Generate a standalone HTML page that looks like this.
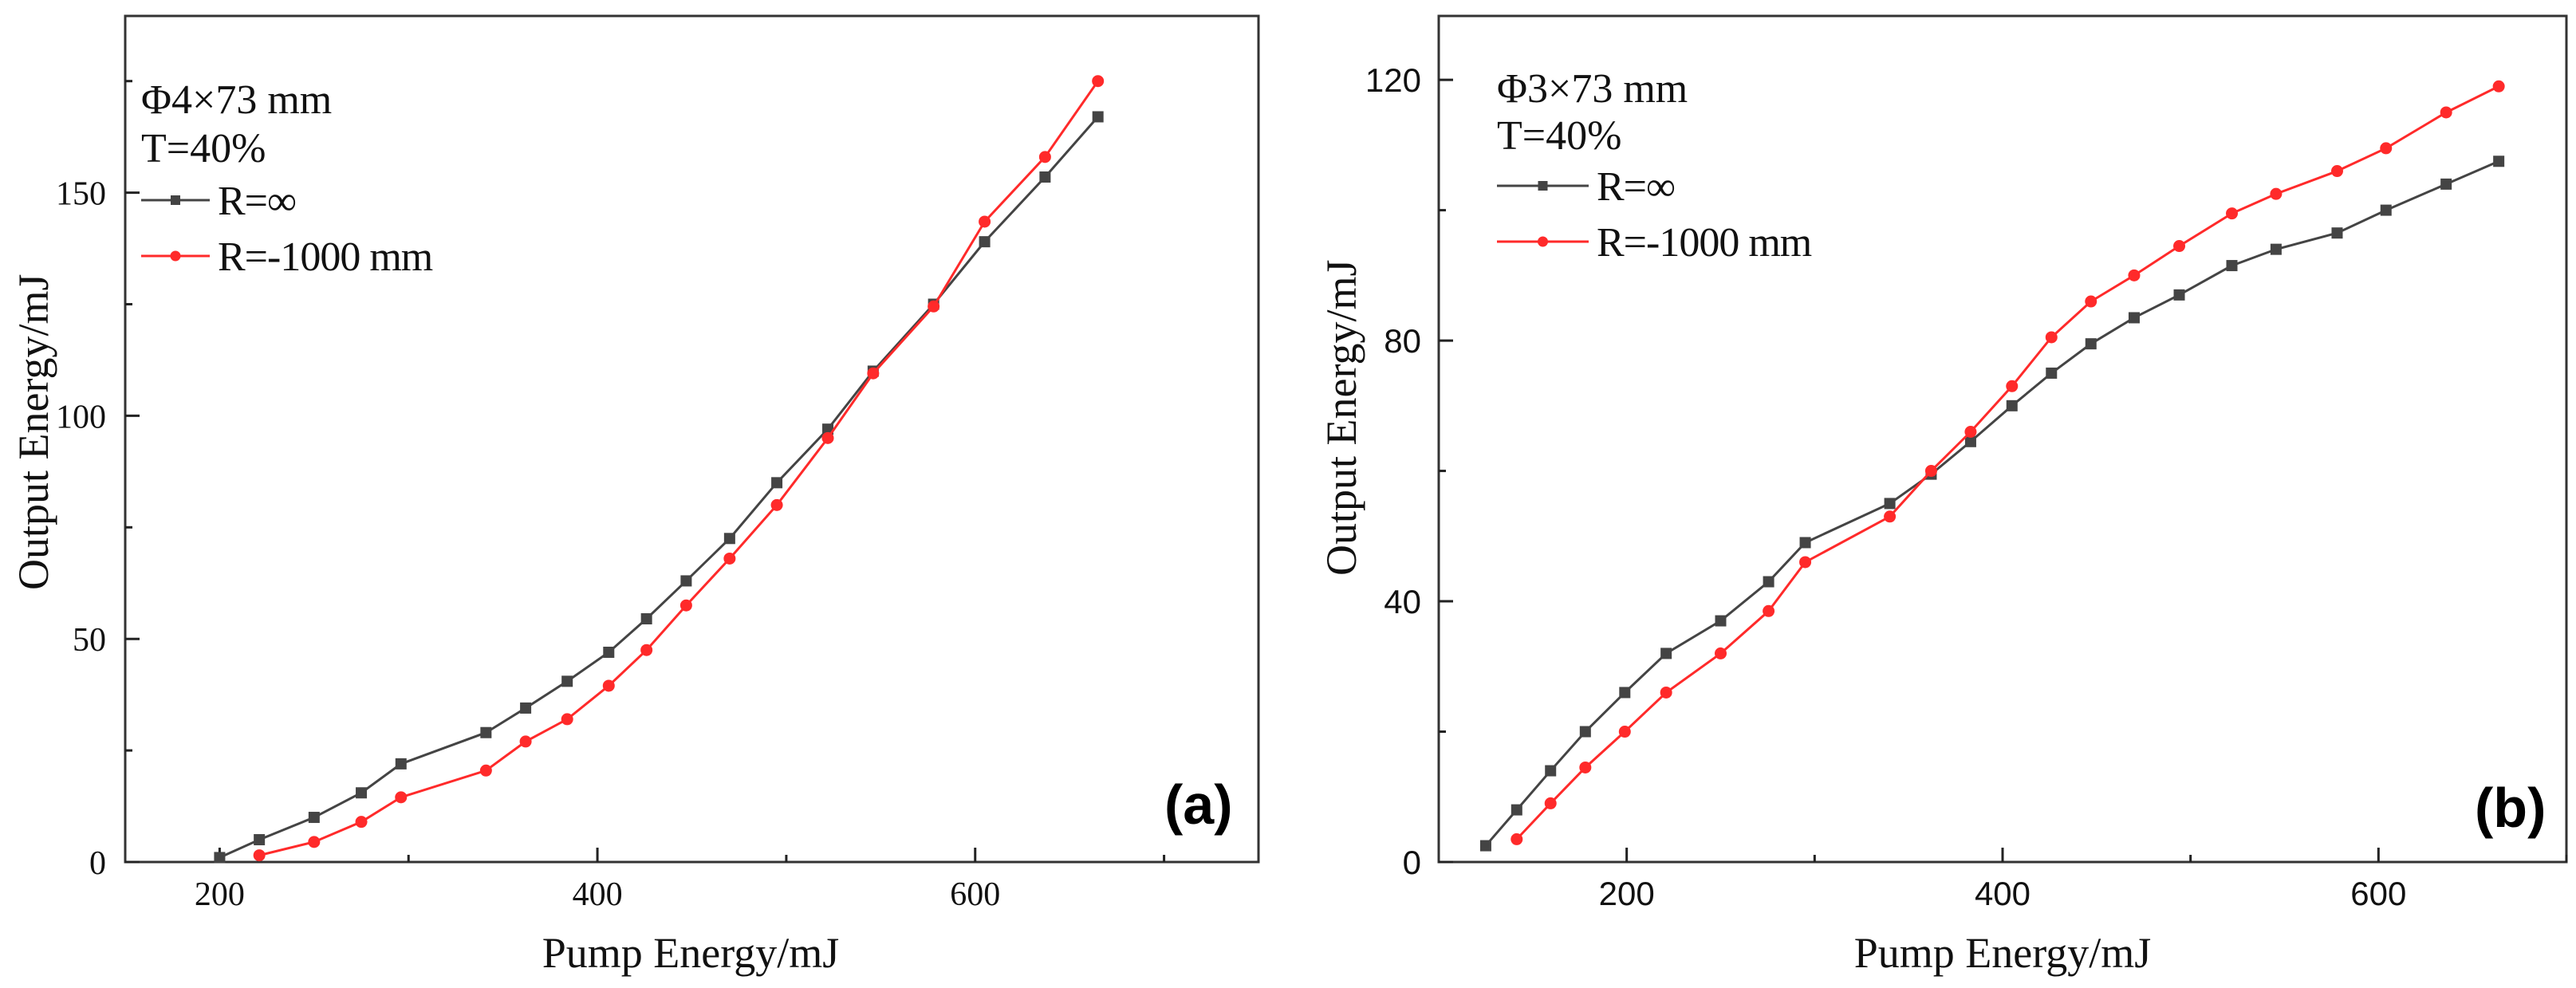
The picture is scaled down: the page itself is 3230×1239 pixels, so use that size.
<!DOCTYPE html>
<html><head><meta charset="utf-8"><style>
html,body{margin:0;padding:0;background:#fff;}
svg{display:block;}
</style></head>
<body>
<svg id="chart" width="3230" height="1239" viewBox="0 0 3230 1239" xmlns="http://www.w3.org/2000/svg"></svg>
<script>
// ---- Panel (a) data ----
const aBlackX = [200,221,250,275,296,341,362,384,406,426,447,470,495,522,546,578,605,637,665];
const aBlackY = [1,5,10,15.5,22,29,34.5,40.5,47,54.5,63,72.5,85,97,110,125,139,153.5,167];
const aRedX = [221,250,275,296,341,362,384,406,426,447,470,495,522,546,578,605,637,665];
const aRedY = [1.5,4.5,9,14.5,20.5,27,32,39.5,47.5,57.5,68,80,95,109.5,124.5,143.5,158,175];
const aXTicks = [200,400,600];
const aXMinor = [300,500,700];
const aYTicks = [0,50,100,150];
const aYMinor = [25,75,125,175];
// ---- Panel (b) data ----
const bBlackX = [125,141.5,159.5,178,199,221,250,275.5,295,340,362,383,405,426,447,470,494,522,545.5,578,604,636,664];
const bBlackY = [2.5,8,14,20,26,32,37,43,49,55,59.5,64.5,70,75,79.5,83.5,87,91.5,94,96.5,100,104,107.5];
const bRedX = [141.5,159.5,178,199,221,250,275.5,295,340,362,383,405,426,447,470,494,522,545.5,578,604,636,664];
const bRedY = [3.5,9,14.5,20,26,32,38.5,46,53,60,66,73,80.5,86,90,94.5,99.5,102.5,106,109.5,115,119];
const bXTicks = [200,400,600];
const bXMinor = [300,500,700];
const bYTicks = [0,40,80,120];
const bYMinor = [20,60,100];

const NS = "http://www.w3.org/2000/svg";
const svg = document.getElementById("chart");
function mk(tag, attrs, parent, text){
  const e = document.createElementNS(NS, tag);
  for (const k in attrs) e.setAttribute(k, attrs[k]);
  if (text !== undefined) e.textContent = text;
  (parent||svg).appendChild(e);
  return e;
}

function panel(cfg){
  const g = mk("g", {});
  
  
  const L=cfg.L,R=cfg.R,T=cfg.T,B=cfg.B;
  const sx = v => L + (v - cfg.xmin)/(cfg.xmax-cfg.xmin)*(R-L);
  const sy = v => B - (v - cfg.ymin)/(cfg.ymax-cfg.ymin)*(B-T);
  const tickFont = cfg.tickFont;
  const fr = mk("rect",{x:L,y:T,width:R-L,height:B-T,fill:"none",stroke:"#333",'stroke-width':3},g);
  
  
  cfg.xt.forEach(v=>{
    const t = mk("line",{x1:sx(v),x2:sx(v),y1:B,y2:B-18,stroke:"#222",'stroke-width':3},g);
    
    
    const lb = mk("text",{x:sx(v),y:B+54,'text-anchor':'middle','font-family':tickFont,'font-size':cfg.tickSize,fill:"#111"},g,String(v));
    
    
  });
  cfg.xm.forEach(v=>{
    const t = mk("line",{x1:sx(v),x2:sx(v),y1:B,y2:B-9,stroke:"#222",'stroke-width':3},g);
    
    
  });
  cfg.yt.forEach(v=>{
    const t = mk("line",{x1:L,x2:L+18,y1:sy(v),y2:sy(v),stroke:"#222",'stroke-width':3},g);
    
    
    const lb = mk("text",{x:L-cfg.ylabGap,y:sy(v)+15,'text-anchor':'end','font-family':tickFont,'font-size':cfg.tickSize,fill:"#111"},g,String(v));
    
    
  });
  cfg.ym.forEach(v=>{
    if (sy(v) < T) return;
    const t = mk("line",{x1:L,x2:L+9,y1:sy(v),y2:sy(v),stroke:"#222",'stroke-width':3},g);
    
    
  });
  function series(xs, ys, color, shape, nm){
    const sg = mk("g",{},g);
    
    
    const pts = xs.map((x,i)=>sx(x)+","+sy(ys[i])).join(" ");
    const pl = mk("polyline",{points:pts,fill:"none",stroke:color,'stroke-width':3},sg);
    
    
    xs.forEach((x,i)=>{
      let m;
      if (shape==="sq") m = mk("rect",{x:sx(x)-7,y:sy(ys[i])-7,width:14,height:14,fill:color},sg);
      else m = mk("circle",{cx:sx(x),cy:sy(ys[i]),r:7.5,fill:color},sg);
      
      
    });
  }
  series(cfg.bx, cfg.by, "#444", "sq", "series-r-infinity");
  series(cfg.rx, cfg.ry, "#ff2a2a", "ci", "series-r-minus-1000");
  const serif = '"Liberation Serif", serif';
  const a1 = mk("text",{x:cfg.lx,y:cfg.ly0,'font-family':serif,'font-size':52,fill:"#111"},g,cfg.title1);
  
  
  const a2 = mk("text",{x:cfg.lx,y:cfg.ly1,'font-family':serif,'font-size':52,fill:"#111"},g,"T=40%");
  
  
  [[cfg.lg0,"#444","sq","R=∞","legend-entry-r-infinity"],[cfg.lg1,"#ff2a2a","ci","R=-1000 mm","legend-entry-r-minus-1000"]].forEach(d=>{
    const lg = mk("g",{},g);
    
    
    mk("line",{x1:cfg.lx,x2:cfg.lx+cfg.lw,y1:d[0],y2:d[0],stroke:d[1],'stroke-width':3},lg);
    const mx = cfg.lx+cfg.lw/2;
    if (d[2]==="sq") mk("rect",{x:mx-6,y:d[0]-6,width:12,height:12,fill:d[1]},lg);
    else mk("circle",{cx:mx,cy:d[0],r:6.5,fill:d[1]},lg);
    mk("text",{x:cfg.lx+cfg.lw+10,y:d[0]+18,'font-family':serif,'font-size':52,fill:"#111",'letter-spacing':'-1'},lg,d[3]);
  });
  const xt = mk("text",{x:cfg.xtx,y:1213,'text-anchor':'middle','font-family':serif,'font-size':54,fill:"#111"},g,cfg.xtitle);
  
  
  const yt = mk("text",{x:0,y:0,'text-anchor':'start','font-family':serif,'font-size':54,fill:"#111",transform:`translate(${cfg.ytx},${cfg.yty}) rotate(-90)`},g,"Output  Energy/mJ");
  
  
  const pl = mk("text",{x:cfg.plx,y:cfg.ply,'font-family':'"Liberation Sans", sans-serif','font-size':70,'font-weight':'bold',fill:"#000"},g,cfg.plabel);
  
  
}

panel({name:"panel-a",L:157,R:1578,T:20,B:1081,xmin:150,xmax:750,ymin:0,ymax:189.6,
  xt:aXTicks,xm:aXMinor,yt:aYTicks,ym:aYMinor,tickFont:'"Liberation Serif", serif',tickSize:42,ylabGap:24,
  bx:aBlackX,by:aBlackY,rx:aRedX,ry:aRedY,lx:177,ly0:142,ly1:203,lg0:251,lg1:321,lw:86,title1:"Φ4×73 mm",
  xtitle:"Pump Energy/mJ",xtx:866,ytx:60,yty:740,plabel:"(a)",plx:1460,ply:1033});
panel({name:"panel-b",L:1804,R:3218,T:20,B:1081,xmin:100,xmax:700,ymin:0,ymax:129.8,
  xt:bXTicks,xm:bXMinor,yt:bYTicks,ym:bYMinor,tickFont:'"Liberation Sans", sans-serif',tickSize:42,ylabGap:22,
  bx:bBlackX,by:bBlackY,rx:bRedX,ry:bRedY,lx:1877,ly0:128,ly1:187,lg0:233,lg1:303,lw:115,title1:"Φ3×73 mm",
  xtitle:"Pump  Energy/mJ",xtx:2511,ytx:1700,yty:722,plabel:"(b)",plx:3103,ply:1037});
</script>
</body></html>
